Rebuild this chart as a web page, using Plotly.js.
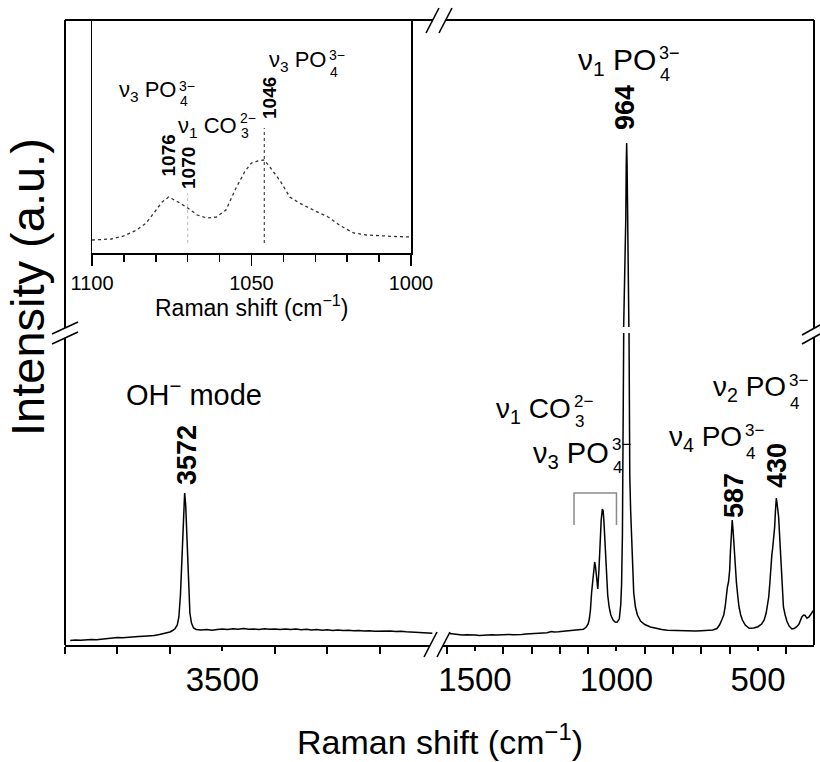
<!DOCTYPE html>
<html><head><meta charset="utf-8">
<script src="https://cdn.plot.ly/plotly-3.0.1.min.js"></script>
<style>html,body{margin:0;padding:0;background:#fff}</style>
</head><body><div id="chart" style="width:820px;height:762px"></div>
<script>
// ---- data ----
const leftShift = [3790,3780,3770,3760,3750,3740,3730,3720,3710,3700,3690,3680,3670,3660,3650,3640,3630,3620,3610,3600,3595,3590,3586,3583,3580,3578,3576,3574,3572,3570,3568,3566,3564,3562,3559,3555,3550,3540,3530,3520,3510,3500,3490,3480,3470,3460,3450,3440,3430,3420,3410,3400,3390,3380,3370,3360,3350,3340,3330,3320,3310,3300,3290,3280,3270,3260,3250,3240,3230,3220,3210,3200,3190,3180,3170,3160,3150,3140,3130,3120,3110,3100];
const leftInt = [4.5,5,4.7,5.2,5.5,5.3,6,6.2,7,7.4,7.2,7.8,8,8.5,8.8,9,9.5,10.5,11.5,13,14.5,16.5,20,28,50,75,105,135,152,140,110,78,50,32,22,17,15.5,15,15.5,14.8,15.6,16,15.4,16.2,15.8,16.4,15.7,16.1,15.5,16.3,15.8,16,15.4,16.1,15.6,15.9,15.2,15.7,15.1,15.5,14.8,15.2,14.6,15,14.4,14.7,14.2,14.5,14,14.3,13.8,14,13.6,13.9,13.4,13.7,13.2,13,12.7,12.4,12,11.7];

const rightShift = [1590,1575,1560,1545,1530,1515,1500,1485,1470,1455,1440,1425,1410,1395,1380,1365,1350,1335,1320,1305,1290,1275,1260,1245,1230,1220,1205,1190,1175,1160,1145,1130,1117,1107,1100,1096,1092,1088,1084,1080,1077,1074,1070,1066,1062,1058,1054,1050,1047,1044,1040,1036,1031,1026,1020,1012,1005,998,990,985,982,979,977,975.5,974,972,969,967,965.5,964,962.5,961,959,957.5,956.5,955.5,953,950,947,943,939,933,926,915,900,880,860,840,820,800,780,760,740,720,700,680,660,645,636,628,621,616,612,608,604,600,597,594,591,588,585,581,576,571,567,561,555,545,531,515,500,487,478,471,466,462,458,455,451,448,445,441,438,435,431,427,424,421,418,415,410,404,398,390,380,372,363,355,350,345,339,333,327,320,315,309,303];
const rightInt = [11.5,11,10.5,10,10.3,9.8,10,9.6,10,9.7,10.2,10,10.4,10.1,10.5,10.3,10.8,10.6,11,11.2,11,11.6,11.8,12.2,13.5,13,13.2,13.6,13.8,14,14.3,15,15.7,18,21,26,35,52,64,77,83,78,63,56,75,105,125,136,134,122,95,70,50,38,30,25,23,22.7,26,40,60,110,175,245,330,430,600,750,960,1048,960,750,560,410,320,245,170,135,112,75,52,38,30,24,20.5,18,16.5,15.5,14.8,14.5,14.2,14,13.6,14,14.3,14.6,15,16.5,20,25,30,38,50,58,63,75,95,115,125,115,98,78,62,48,38,30,25,20,16.7,17,18.3,21,25,32,40,48,62,78,90,97,105,118,135,147,138,128,112,95,75,52,38,30,24,19,16,16.5,18.3,21,25,28,30,29.5,26.7,28,30,33,35];

const insetShift = [1100,1097,1094,1090,1086,1083,1080,1078,1076,1073,1070,1067,1064,1061,1058,1055,1052,1050,1048,1046,1044,1041,1038,1035,1030,1026,1022,1018,1014,1010,1005,1000];
const insetInt = [13,13.3,14,17,23,30,42,51,56,51,45,38,35,36,43,64,82,90,92,93,85,72,56,50,42,36,27,20,18,17,16.5,16];

const mainPeakLabels = ['3572','964','587','430'];
const insetPeakLabels = ['1076','1070','1046'];

// ---- geometry helpers ----
const FONT = 'Arial, "Liberation Sans", sans-serif';
const W=820,H=762,ML=65,MR=6,MT=20,MB=117;
const PW=W-ML-MR, PH=H-MT-MB;
const px = x => (x-ML)/PW;
const py = y => (H-MB-y)/PH;
const P = (x,y) => px(x)+','+py(y);

const lineStyle = {color:'#000', width:1.5};
const traces = [
  {x:leftShift, y:leftInt, xaxis:'x', yaxis:'y', mode:'lines', line:lineStyle, hoverinfo:'skip'},
  {x:rightShift, y:rightInt, xaxis:'x2', yaxis:'y', mode:'lines', line:lineStyle, hoverinfo:'skip'},
  {x:rightShift, y:rightInt, xaxis:'x2', yaxis:'y3', mode:'lines', line:lineStyle, hoverinfo:'skip'},
  {x:insetShift, y:insetInt, xaxis:'x4', yaxis:'y4', mode:'lines', line:{color:'#333', width:1.3, dash:'dot'}, hoverinfo:'skip'}
];

const minorMain = {dtick:100, tick0:0, ticklen:7, tickwidth:2, tickcolor:'#000', ticks:'outside', showgrid:false};
// labelled axes use short major ticks (labels sit close); long major ticks come from overlay axes
const xCommon = {showgrid:false, zeroline:false, showline:true, linecolor:'#000', linewidth:2,
  ticks:'outside', tickcolor:'#000', tickwidth:2, ticklen:4, tick0:0, dtick:500,
  tickfont:{family:FONT, size:33, color:'#000'}, fixedrange:true};
const xTickOverlay = {showgrid:false, zeroline:false, showline:false, ticks:'outside', tickcolor:'#000',
  tickwidth:2, ticklen:13, tick0:0, dtick:500, showticklabels:false, fixedrange:true, anchor:'y'};

// annotations
const anns = [];
function txt(text, x, y, size, o) {
  anns.push(Object.assign({text:text, x:px(x), y:py(y), xref:'paper', yref:'paper', showarrow:false,
    font:{family:FONT, size:size, color:'#000'}, xanchor:'center', yanchor:'middle'}, o||{}));
}
// chemical label: main text right-anchored, stacked sup/sub left-anchored
function chem(main, endX, capY, size, sup, supY, sub, subY, small) {
  txt(main, endX, capY + 1, size, {xanchor:'right', borderpad:0});
  txt(sup, endX + 1, supY, small, {xanchor:'left', borderpad:0});
  txt(sub, endX + 2, subY, small, {xanchor:'left', borderpad:0});
}
chem('ν<sub>1</sub> PO', 657, 60.5, 30, '3−', 53.5, '4', 75, 18);
chem('ν<sub>1</sub> CO', 572, 410, 28, '2−', 401.5, '3', 421.5, 17);
chem('ν<sub>3</sub> PO', 610, 454, 29, '3−', 444.5, '4', 467.5, 17);
chem('ν<sub>4</sub> PO', 743, 437.5, 28, '3−', 430, '4', 453, 17);
chem('ν<sub>2</sub> PO', 787, 387.5, 28, '3−', 380, '4', 403.5, 17);
chem('ν<sub>3</sub> PO', 177, 89.5, 22, '3−', 86, '4', 101.5, 14);
chem('ν<sub>1</sub> CO', 238, 126, 22, '2−', 117.5, '3', 133, 14);
chem('ν<sub>3</sub> PO', 327, 60, 22, '3−', 55.5, '4', 71.5, 14);
txt('OH<sup>−</sup> mode', 194, 393, 29);

const mainPeakPos = [[187,455],[625,108],[734,496],[777,466]];
mainPeakLabels.forEach((t,i)=>txt('<b>'+t+'</b>', mainPeakPos[i][0], mainPeakPos[i][1], 27, {textangle:-90}));
const insetPeakPos = [[167.5,156],[188,168],[269,98]];
insetPeakLabels.forEach((t,i)=>txt('<b>'+t+'</b>', insetPeakPos[i][0], insetPeakPos[i][1], 19, {textangle:-90}));

txt('Raman shift (cm<sup>−1</sup>)', 440, 739, 34);
txt('Raman shift (cm<sup>−1</sup>)', 251.5, 306, 23);
txt('Intensity (a.u.)', 27, 287, 47, {textangle:-90});

// shapes
const shapes = [];
const pl = (x0,y0,x1,y1,o) => shapes.push(Object.assign({type:'line', xref:'paper', yref:'paper',
  x0:px(x0), y0:py(y0), x1:px(x1), y1:py(y1), line:{color:'#000', width:2}}, o||{}));
// frame
pl(ML,20,ML,645); pl(814,20,814,645); pl(ML,20,814,20);
// break marks: white gap then slashes
function brk(a0,a1,b0,b1) {
  shapes.push({type:'path', xref:'paper', yref:'paper', fillcolor:'#fff', line:{width:0},
    path:'M'+P(a0[0],a0[1])+' L'+P(a1[0],a1[1])+' L'+P(b1[0],b1[1])+' L'+P(b0[0],b0[1])+' Z'});
  pl(a0[0],a0[1],a1[0],a1[1],{line:{color:'#000',width:1.6}});
  pl(b0[0],b0[1],b1[0],b1[1],{line:{color:'#000',width:1.6}});
}
brk([424,657],[437,632],[437,657],[450,632]);
brk([426,33],[439,8],[439,33],[452,8]);
brk([52,334],[78,322],[52,344],[78,332]);
brk([802,335],[820,325],[802,344],[820,334]);
// bracket over the 1000-1150 group
shapes.push({type:'path', xref:'x2', yref:'y', path:'M1150,120 L1150,152 L1000,152 L1000,120',
  line:{color:'#8a8a8a', width:1.5}});
// inset guide lines
shapes.push({type:'line', xref:'x4', yref:'y4', x0:1046, x1:1046, y0:10, y1:125, line:{color:'#222', width:1, dash:'dot'}});
shapes.push({type:'line', xref:'x4', yref:'y4', x0:1070, x1:1070, y0:10, y1:60, line:{color:'#bbb', width:1, dash:'dot'}});

const leftDomain = [0, px(436)], rightDomain = [px(443), 1];
const leftRange = [3800,3093], rightRange = [1613,302];
const layout = {
  width:W, height:H, margin:{l:ML, r:MR, t:MT, b:MB}, paper_bgcolor:'#fff', plot_bgcolor:'rgba(0,0,0,0)',
  showlegend:false, hovermode:false,
  xaxis: Object.assign({}, xCommon, {domain:leftDomain, range:leftRange, anchor:'y', minor:minorMain}),
  xaxis2: Object.assign({}, xCommon, {domain:rightDomain, range:rightRange, anchor:'y', minor:minorMain}),
  xaxis5: Object.assign({}, xTickOverlay, {domain:leftDomain, range:leftRange, overlaying:'x'}),
  xaxis6: Object.assign({}, xTickOverlay, {domain:rightDomain, range:rightRange, overlaying:'x2'}),
  yaxis: {domain:[0, py(333)], range:[0,312], anchor:'x', visible:false, fixedrange:true},
  yaxis3: {domain:[py(327), 1], range:[312,1540], anchor:'x2', visible:false, fixedrange:true},
  xaxis4: Object.assign({}, xCommon, {domain:[px(92), px(411)], range:[1100,1000], anchor:'y4', dtick:50,
    ticklen:11, linewidth:1.5, tickwidth:1.5, tickfont:{family:FONT, size:20, color:'#000'},
    minor:{dtick:10, tick0:0, ticklen:7, tickwidth:1.5, tickcolor:'#000', ticks:'outside', showgrid:false}}),
  yaxis4: {domain:[py(253), 1], range:[0,233], anchor:'x4', showline:true, mirror:true, linecolor:'#000',
    linewidth:1.5, ticks:'', showticklabels:false, showgrid:false, zeroline:false, fixedrange:true},
  annotations: anns,
  shapes: shapes
};
Plotly.newPlot('chart', traces, layout, {staticPlot:true, displayModeBar:false});
</script></body></html>
